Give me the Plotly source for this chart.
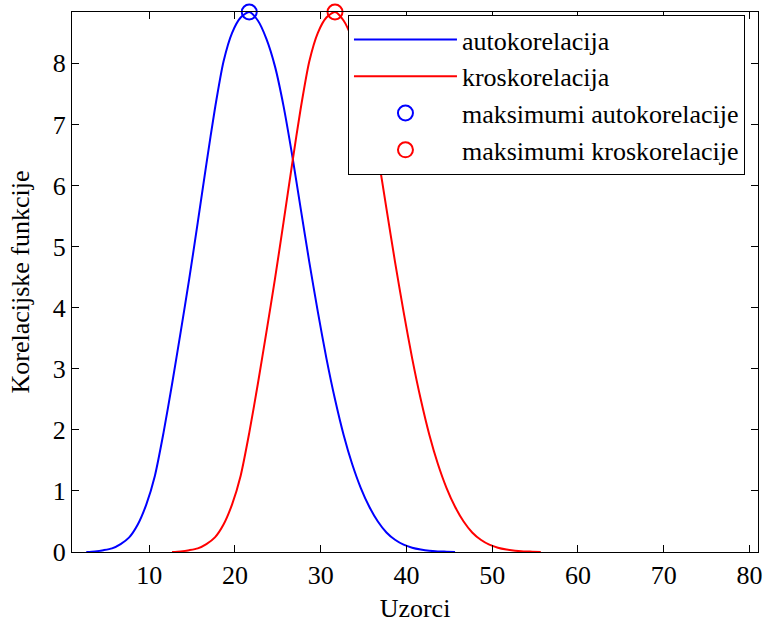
import plotly.graph_objects as go

# sample positions (Uzorci) and read-off values
auto_x = [2.67 + i for i in range(44)]  # 2.67 .. 45.67
auto_y = [0.0, 0.01, 0.03, 0.06, 0.13, 0.24, 0.45, 0.78, 1.25, 1.95,
          2.75, 3.6, 4.47, 5.4, 6.35, 7.26, 8.03, 8.5, 8.75, 8.84,
          8.7, 8.4, 7.95, 7.3, 6.5, 5.62, 4.75, 3.93, 3.17, 2.5,
          1.92, 1.44, 1.05, 0.74, 0.5, 0.32, 0.2, 0.12, 0.07, 0.04,
          0.02, 0.01, 0.005, 0.0]
cross_x = [12.67 + i for i in range(44)]  # 12.67 .. 55.67
cross_y = [0.0, 0.01, 0.03, 0.06, 0.13, 0.24, 0.45, 0.78, 1.25, 1.95,
           2.75, 3.6, 4.47, 5.4, 6.35, 7.26, 8.03, 8.5, 8.75, 8.84,
           8.7, 8.4, 7.95, 7.3, 6.5, 5.62, 4.75, 3.93, 3.17, 2.5,
           1.92, 1.44, 1.05, 0.74, 0.5, 0.32, 0.2, 0.12, 0.07, 0.04,
           0.02, 0.01, 0.005, 0.0]
max_auto_x = [21.67]
max_auto_y = [8.84]
max_cross_x = [31.67]
max_cross_y = [8.84]

x_ticks = [10, 20, 30, 40, 50, 60, 70, 80]
y_ticks = [0, 1, 2, 3, 4, 5, 6, 7, 8]

FONT = "Liberation Serif, Times New Roman, serif"

fig = go.Figure()
fig.add_trace(go.Scatter(x=auto_x, y=auto_y, mode="lines", name="autokorelacija",
                         line=dict(color="#0000FF", width=2, shape="spline", smoothing=0.7)))
fig.add_trace(go.Scatter(x=cross_x, y=cross_y, mode="lines", name="kroskorelacija",
                         line=dict(color="#FF0000", width=2, shape="spline", smoothing=0.7)))
fig.add_trace(go.Scatter(x=max_auto_x, y=max_auto_y, mode="markers",
                         name="maksimumi autokorelacije", cliponaxis=False,
                         marker=dict(symbol="circle-open", size=15, color="#0000FF",
                                     line=dict(width=2, color="#0000FF"))))
fig.add_trace(go.Scatter(x=max_cross_x, y=max_cross_y, mode="markers",
                         name="maksimumi kroskorelacije", cliponaxis=False,
                         marker=dict(symbol="circle-open", size=15, color="#FF0000",
                                     line=dict(width=2, color="#FF0000"))))

axis_common = dict(showline=True, linecolor="black", linewidth=1, mirror="ticks",
                   ticks="inside", ticklen=7, tickcolor="black", tickwidth=1,
                   showgrid=False, zeroline=False, automargin=False,
                   tickfont=dict(family=FONT, size=26, color="black"))

fig.update_layout(
    width=763, height=623,
    margin=dict(l=72, r=5, t=12, b=71, autoexpand=False),
    paper_bgcolor="white", plot_bgcolor="white",
    font=dict(family=FONT, size=26, color="black"),
    xaxis=dict(range=[1, 81], tickvals=x_ticks,
               title=dict(text="Uzorci", font=dict(family=FONT, size=26), standoff=10),
               **axis_common),
    yaxis=dict(range=[0, 8.84], tickvals=y_ticks,
               title=dict(text="Korelacijske funkcije", font=dict(family=FONT, size=26)),
               **axis_common),
    legend=dict(x=0.981, y=0.9944, xanchor="right", yanchor="top",
                bgcolor="white", bordercolor="black", borderwidth=1,
                font=dict(family=FONT, size=26, color="black"),
                itemwidth=103, tracegroupgap=0),
    showlegend=True,
)

fig.write_html("out.html", config={"displayModeBar": False},
               post_script="document.body.style.margin='0px';document.body.style.overflow='hidden';")
